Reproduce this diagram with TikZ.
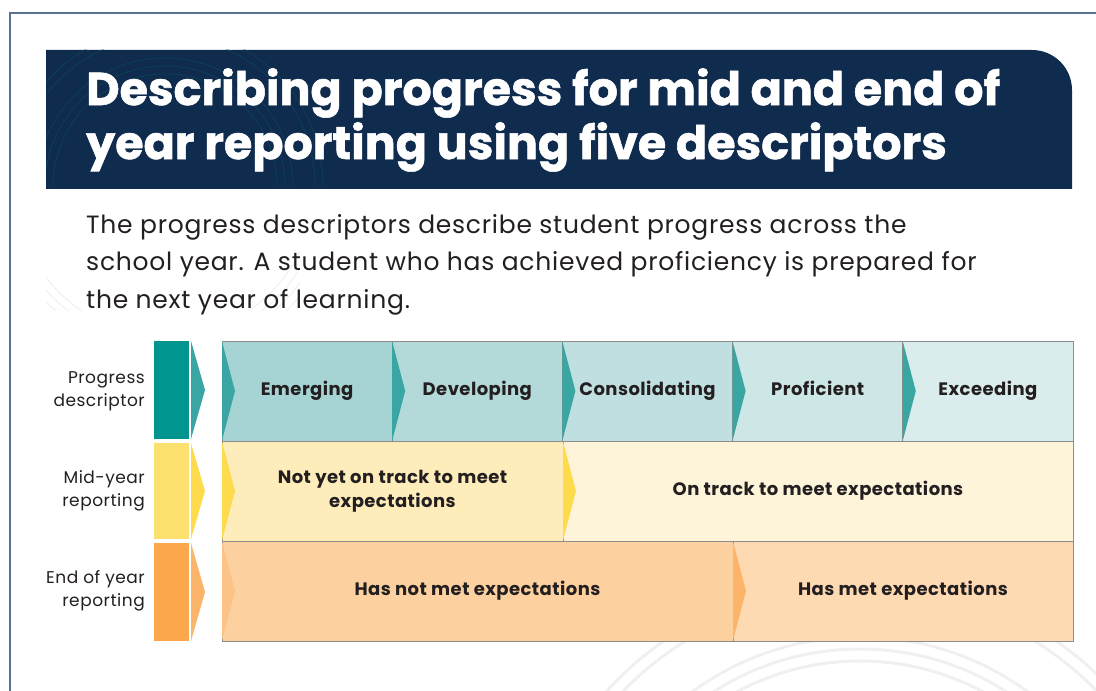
\documentclass[tikz,border=0pt]{standalone}
\usepackage{fontspec}
\setmainfont{Poppins}
\newfontfamily\headfont{Poppins}[BoldFeatures={FakeBold=1.2}]
\usepackage{tikz}
\usetikzlibrary{calc,positioning}

\definecolor{navy}{HTML}{0F2B4D}
\definecolor{framecol}{HTML}{5A7291}
\definecolor{inkcol}{HTML}{231F20}
\definecolor{gridcol}{HTML}{8C8C8C}
% descriptor row
\definecolor{tealbar}{HTML}{00968F}
\definecolor{tealtip}{HTML}{3AA6A4}
\definecolor{tealA}{HTML}{A6D3D3}
\definecolor{tealB}{HTML}{B3D9D9}
\definecolor{tealC}{HTML}{C0DFE0}
\definecolor{tealD}{HTML}{CDE6E6}
\definecolor{tealE}{HTML}{DAEDEC}
% mid-year row
\definecolor{yellowbar}{HTML}{FDE16F}
\definecolor{yellowtip}{HTML}{FDDB4C}
\definecolor{yellowA}{HTML}{FEEDBB}
\definecolor{yellowB}{HTML}{FEF4DA}
% end of year row
\definecolor{orangebar}{HTML}{FBA84D}
\definecolor{orangetip}{HTML}{FBB46A}
\definecolor{orangeA}{HTML}{FDD09F}
\definecolor{orangeB}{HTML}{FEDAB3}

\tikzset{
  cell/.style={draw=gridcol, line width=0.8pt, minimum height=100pt,
    inner sep=0pt, outer sep=0pt, align=center, text=inkcol,
    font=\fontsize{18}{24.5}\selectfont\bfseries\addfontfeatures{LetterSpace=2.5}},
  desc/.style={cell, minimum width=170.2pt, execute at begin node=\strut},
  rowlabel/.style={anchor=east, align=right, inner sep=0pt, text=inkcol,
    font=\fontsize{17}{23}\selectfont\addfontfeatures{LetterSpace=3}},
  bar/.style={minimum width=35pt, inner sep=0pt, outer sep=0pt}
}

\begin{document}
\begin{tikzpicture}[x=1pt,y=1pt]
  \useasboundingbox (0,0) rectangle (1096,691);

  % outer frame, only the top and left edges show
  \draw[framecol, line width=1.3pt] (10,0) -- (10,678) -- (1096,678);

  % title banner with a faint pattern
  \fill[navy] (46,502) -- (46,641) -- (1032,641)
    arc[start angle=90, end angle=0, radius=40pt] -- (1072,502) -- cycle;
  \begin{scope}
    \clip (46,502) rectangle (1072,641);
    \foreach \r in {112,120,128,150,158}
      \draw[teal!55!navy, opacity=0.45, line width=0.8pt] (165,505) circle[radius=\r pt];
  \end{scope}
  \begin{scope}
    \clip (46,380) rectangle (300,502);
    \foreach \r in {150,158,166,174}
      \draw[black!6, line width=1pt] (165,505) circle[radius=\r pt];
  \end{scope}
  \begin{scope}
    \clip (480,0) rectangle (1096,48);
    \foreach \r in {260,272,284,330,342}
      \draw[black!6, line width=3pt] (860,-230) circle[radius=\r pt];
  \end{scope}

  \node[anchor=north west, align=left, inner sep=0pt, text=white,
        font=\headfont\fontsize{46}{54}\selectfont\bfseries] (title) at (86,623)
    {Describing progress for mid and end of\\year reporting using five descriptors};

  \node[anchor=north west, align=left, inner sep=0pt, text=inkcol,
        font=\fontsize{25}{37.5}\selectfont\addfontfeatures{LetterSpace=3}] (intro) at (86,477)
    {The progress descriptors describe student progress across the\\
     school year. A student who has achieved proficiency is prepared for\\
     the next year of learning.};

  % coloured bars down the left
  \node[bar, fill=tealbar, minimum height=98pt, anchor=north west] (pbar) at (154,350) {};
  \node[bar, fill=yellowbar, minimum height=96pt, anchor=north west] (mbar) at (154,248) {};
  \node[bar, fill=orangebar, minimum height=98pt, anchor=north west] (ebar) at (154,148) {};
  \foreach \b/\c in {pbar/tealtip, mbar/yellowtip, ebar/orangetip}
    \fill[\c] ([xshift=2pt]\b.north east) -- ([xshift=16pt]\b.east)
      -- ([xshift=2pt]\b.south east) -- cycle;

  \node[rowlabel] (plabel) at (145,300) {Progress\\descriptor};
  \node[rowlabel] (mlabel) at (145,200) {Mid-year\\reporting};
  \node[rowlabel] (elabel) at (145,100) {End of year\\reporting};

  % progress descriptors
  \node[desc, fill=tealA, anchor=north west] (emerging) at (222,350) {Emerging};
  \node[desc, fill=tealB, right=0pt of emerging] (developing) {Developing};
  \node[desc, fill=tealC, right=0pt of developing] (consolidating) {Consolidating};
  \node[desc, fill=tealD, right=0pt of consolidating] (proficient) {Proficient};
  \node[desc, fill=tealE, right=0pt of proficient] (exceeding) {Exceeding};

  % mid-year reporting
  \node[cell, fill=yellowA, minimum width=341pt, anchor=north west] (nottrack) at (222,250)
    {Not yet on track to meet\\expectations};
  \node[cell, fill=yellowB, minimum width=510pt, right=0pt of nottrack] (ontrack)
    {On track to meet expectations};

  % end of year reporting
  \node[cell, fill=orangeA, minimum width=511pt, anchor=north west] (notmet) at (222,150)
    {Has not met expectations};
  \node[cell, fill=orangeB, minimum width=340pt, right=0pt of notmet] (met)
    {Has met expectations};

  % chevrons on the left edge of each cell
  \foreach \n in {emerging, developing, consolidating, proficient, exceeding}
    \fill[tealtip] ([yshift=-0.4pt]\n.north west) -- ([xshift=13pt]\n.west)
      -- ([yshift=0.4pt]\n.south west) -- cycle;
  \foreach \n in {nottrack, ontrack}
    \fill[yellowtip] ([yshift=-0.4pt]\n.north west) -- ([xshift=13pt]\n.west)
      -- ([yshift=0.4pt]\n.south west) -- cycle;
  \fill[orangetip!80!white] ([yshift=-0.4pt]notmet.north west) -- ([xshift=13pt]notmet.west)
    -- ([yshift=0.4pt]notmet.south west) -- cycle;
  \fill[orangetip] ([yshift=-0.4pt]met.north west) -- ([xshift=13pt]met.west)
    -- ([yshift=0.4pt]met.south west) -- cycle;
\end{tikzpicture}
\end{document}
